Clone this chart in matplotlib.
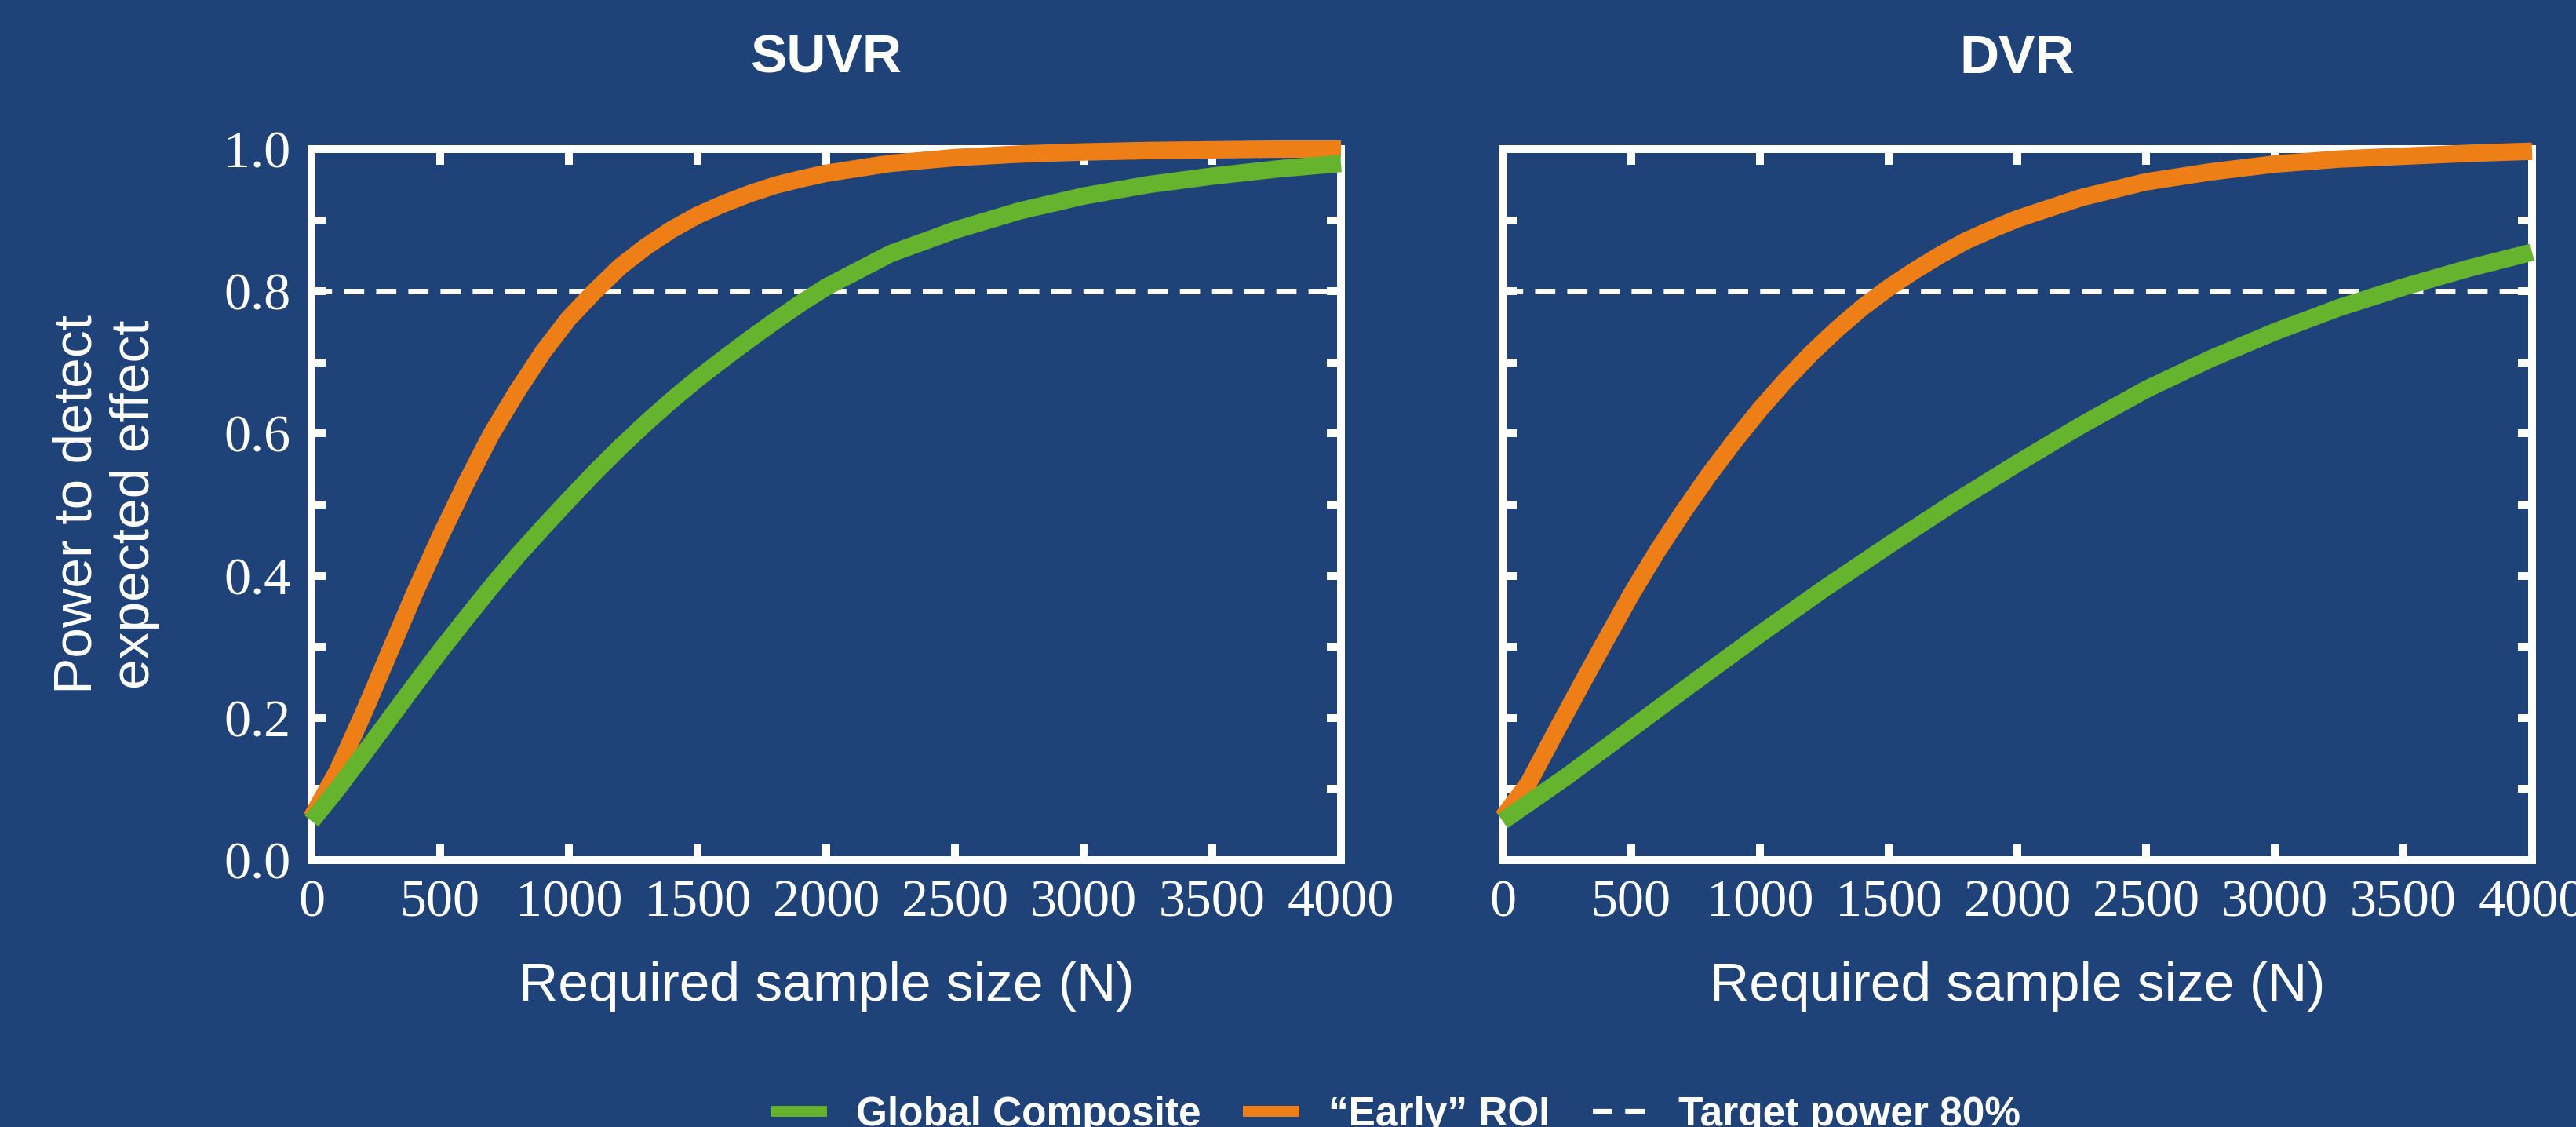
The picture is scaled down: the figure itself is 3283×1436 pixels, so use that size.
import matplotlib
matplotlib.use("Agg")
import matplotlib.pyplot as plt
from matplotlib.ticker import MultipleLocator, FuncFormatter
from matplotlib.lines import Line2D

# ---------------- data ----------------
titles = ["SUVR", "DVR"]
x_label = "Required sample size (N)"
y_label = "Power to detect\nexpected effect"
legend_labels = ["Global Composite", "\u201cEarly\u201d ROI", "Target power 80%"]
target_power = 0.8

suvr_early_n = [0, 100, 200, 300, 400, 500, 600, 700, 800, 900, 1000, 1100, 1200, 1300,
                1400, 1500, 1600, 1700, 1800, 1900, 2000, 2250, 2500, 2750, 3000, 3250,
                3500, 3750, 4000]
suvr_early_p = [0.06, 0.125, 0.205, 0.29, 0.375, 0.455, 0.53, 0.60, 0.66, 0.715, 0.762,
                0.80, 0.835, 0.863, 0.887, 0.907, 0.923, 0.937, 0.949, 0.958, 0.966,
                0.980, 0.988, 0.993, 0.996, 0.998, 0.999, 1.0, 1.0]

suvr_global_n = [0, 100, 200, 300, 400, 500, 600, 700, 800, 900, 1000, 1100, 1200, 1300,
                 1400, 1500, 1600, 1700, 1800, 1900, 2000, 2250, 2500, 2750, 3000, 3250,
                 3500, 3750, 4000]
suvr_global_p = [0.055, 0.10, 0.148, 0.197, 0.246, 0.294, 0.34, 0.385, 0.428, 0.468,
                 0.507, 0.545, 0.581, 0.615, 0.647, 0.677, 0.705, 0.732, 0.758, 0.783,
                 0.806, 0.853, 0.886, 0.913, 0.934, 0.950, 0.962, 0.972, 0.980]

dvr_early_n = [0, 100, 200, 300, 400, 500, 600, 700, 800, 900, 1000, 1100, 1200, 1300,
               1400, 1500, 1600, 1700, 1800, 1900, 2000, 2250, 2500, 2750, 3000, 3250,
               3500, 3750, 4000]
dvr_early_p = [0.06, 0.108, 0.176, 0.243, 0.309, 0.374, 0.434, 0.489, 0.541, 0.589, 0.634,
               0.675, 0.713, 0.747, 0.778, 0.805, 0.829, 0.851, 0.871, 0.887, 0.902,
               0.932, 0.954, 0.968, 0.979, 0.986, 0.990, 0.994, 0.997]

dvr_global_n = [0, 250, 500, 750, 1000, 1250, 1500, 1750, 2000, 2250, 2500, 2750, 3000,
                3250, 3500, 3750, 4000]
dvr_global_p = [0.055, 0.118, 0.185, 0.252, 0.318, 0.382, 0.443, 0.502, 0.558, 0.612,
                0.662, 0.705, 0.743, 0.777, 0.806, 0.832, 0.855]

panels = [
    (suvr_early_n, suvr_early_p, suvr_global_n, suvr_global_p),
    (dvr_early_n, dvr_early_p, dvr_global_n, dvr_global_p),
]

# ---------------- style ----------------
BG = "#1f4378"
GREEN = "#66b32e"
ORANGE = "#ee7f17"
WHITE = "#ffffff"
SANS = "Liberation Sans"
SERIF = "Liberation Serif"

W, H = 3283, 1436
fig = plt.figure(figsize=(W / 100, H / 100), dpi=100, facecolor=BG)

bottom = 1 - 1096 / H
height = 906 / H
axes = [
    fig.add_axes([397 / W, bottom, (1709 - 397) / W, height]),
    fig.add_axes([1915 / W, bottom, (3227 - 1915) / W, height]),
]


def ylab(v, pos):
    k = int(round(v * 10))
    return f"{v:.1f}" if k % 2 == 0 else ""


for i, (ax, title, (en, ep, gn, gp)) in enumerate(zip(axes, titles, panels)):
    ax.set_facecolor(BG)
    ax.axhline(target_power, color=WHITE, lw=5, linestyle=(0, (3.7, 2.2)), zorder=3)
    ax.plot(en, ep, color=ORANGE, lw=16, solid_capstyle="butt", clip_on=False, zorder=4)
    ax.plot(gn, gp, color=GREEN, lw=16, solid_capstyle="butt", clip_on=False, zorder=5)
    ax.set_xlim(0, 4000)
    ax.set_ylim(0, 1.0)

    for s in ax.spines.values():
        s.set_color(WHITE)
        s.set_linewidth(7.2)

    ax.xaxis.set_major_locator(MultipleLocator(500))
    ax.yaxis.set_major_locator(MultipleLocator(0.1))
    ax.yaxis.set_minor_locator(MultipleLocator(0.025))
    ax.yaxis.set_major_formatter(FuncFormatter(ylab))

    ax.tick_params(which="major", direction="in", width=7.2, color=WHITE,
                   top=True, bottom=True, left=True, right=True,
                   labelsize=49, labelcolor=WHITE, labelfontfamily=SERIF)
    ax.tick_params(axis="x", which="major", pad=18, length=14.5)
    ax.tick_params(axis="y", which="major", pad=19, length=13)
    ax.tick_params(axis="y", which="minor", direction="in", length=3, width=1.2,
                   color="#6f6a66", left=True, right=True)
    ax.tick_params(axis="x", which="minor", bottom=False, top=False)

    ax.set_title(title, fontsize=50, fontweight="bold", color=WHITE, family=SANS, pad=70)
    ax.set_xlabel(x_label, fontsize=50, color=WHITE, family=SANS)
    ax.xaxis.set_label_coords(0.5, -0.142)

    if i == 0:
        ax.set_ylabel(y_label, fontsize=50, color=WHITE, family=SANS, linespacing=1.2)
        ax.yaxis.set_label_coords(-0.147, 0.5)
    else:
        ax.tick_params(axis="y", labelleft=False)

handles = [
    Line2D([], [], color=GREEN, lw=10, solid_capstyle="butt"),
    Line2D([], [], color=ORANGE, lw=10, solid_capstyle="butt"),
    Line2D([], [], color=WHITE, lw=4.5, linestyle=(0, (4.0, 2.6))),
]
fig.legend(handles, legend_labels, loc="lower center", bbox_to_anchor=(0.5417, -0.006),
           ncol=3, frameon=False,
           prop={"family": SANS, "weight": "bold", "size": 37}, labelcolor=WHITE,
           handlelength=1.4, handletextpad=0.72, columnspacing=1.05,
           borderpad=0, borderaxespad=0)

fig.savefig("out.png", dpi=100, facecolor=BG)
